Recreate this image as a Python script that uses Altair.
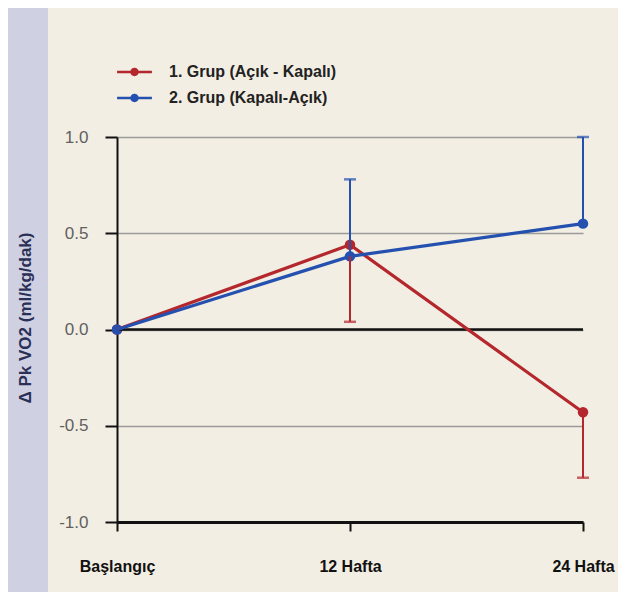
import altair as alt
import pandas as pd

categories = ["Başlangıç", "12 Hafta", "24 Hafta"]
series_names = ["1. Grup (Açık - Kapalı)", "2. Grup (Kapalı-Açık)"]
series_colors = ["#b3272d", "#2450b0"]
group1 = [0.0, 0.44, -0.43]
group2 = [0.0, 0.38, 0.55]
group1_err_end = [None, 0.04, -0.77]
group2_err_end = [None, 0.78, 1.0]
y_ticks = [-1.0, -0.5, 0.0, 0.5, 1.0]
y_title = "Δ Pk VO2 (ml/kg/dak)"

rows = []
for name, vals, errs in [(series_names[0], group1, group1_err_end), (series_names[1], group2, group2_err_end)]:
    for c, v, e in zip(categories, vals, errs):
        rows.append({"cat": c, "grp": name, "val": v, "err": e})
df = pd.DataFrame(rows)
err_df = df.dropna(subset=["err"])
zero_df = pd.DataFrame({"v": [0.0]})

x_enc = alt.X("cat:N", sort=categories, scale=alt.Scale(type="point", padding=0), title=None,
              axis=alt.Axis(labelAngle=0))
y_scale = alt.Scale(domain=[-1, 1], nice=False)
y_axis = alt.Axis(values=y_ticks, title=None,
                  labelExpr="datum.value < 0 ? '-' + format(-datum.value, '.1f') : format(datum.value, '.1f')")
color_enc = alt.Color("grp:N", scale=alt.Scale(domain=series_names, range=series_colors),
                      legend=alt.Legend(title=None))

base = alt.Chart(df)

band = alt.Chart(alt.Data(values=[{"a": 1}])).mark_rect(color="#cfd0e2").encode(
    x=alt.value(-109), x2=alt.value(-69), y=alt.value(-129), y2=alt.value(460))

title_txt = alt.Chart(alt.Data(values=[{"a": 1}])).mark_text(
    angle=270, font="Liberation Sans", fontSize=17, fontWeight="bold", color="#2a2f55",
    align="center", baseline="middle").encode(
    x=alt.value(-91), y=alt.value(181), text=alt.value(y_title))

zero = alt.Chart(zero_df).mark_rule(color="#111111", strokeWidth=2.5).encode(
    y=alt.Y("v:Q", scale=y_scale, axis=y_axis))

lines = base.mark_line(strokeWidth=3.2).encode(
    x=x_enc, y=alt.Y("val:Q", scale=y_scale, axis=y_axis), color=color_enc, order=alt.Order("grp:N"))

err_rules = alt.Chart(err_df).mark_rule(strokeWidth=2).encode(
    x=x_enc, y=alt.Y("val:Q", scale=y_scale, axis=y_axis), y2="err:Q", color=color_enc)

caps = alt.Chart(err_df).mark_tick(orient="horizontal", size=12, thickness=2.5).encode(
    x=x_enc, y=alt.Y("err:Q", scale=y_scale, axis=y_axis), color=color_enc)

points = base.mark_point(filled=True, size=110, opacity=1).encode(
    x=x_enc, y=alt.Y("val:Q", scale=y_scale, axis=y_axis), color=color_enc)

chart = alt.layer(points, band, title_txt, zero, lines, err_rules, caps).properties(
    width=466, height=385,
    autosize=alt.AutoSizeParams(type="none"),
    padding={"left": 109, "top": 129, "right": 35, "bottom": 70},
    background="#f3eee3",
).configure_view(stroke=None).configure_axisX(
    grid=False, domainColor="#111111", domainWidth=3, tickColor="#111111", tickWidth=2, tickSize=9,
    labelFont="Liberation Sans", labelFontSize=16, labelFontWeight="bold", labelColor="#111111",
    labelPadding=27,
).configure_axisY(
    grid=True, gridColor="#9a9a9a", gridWidth=1.5, domainColor="#111111", domainWidth=2,
    tickColor="#111111", tickWidth=2, tickSize=12,
    labelFont="Liberation Sans", labelFontSize=17, labelColor="#606060", labelPadding=17,
).configure_legend(
    orient="none", legendX=9.5, legendY=-73, padding=0,
    symbolType="M-2.9,-0.2H2.9V0.2H-2.9Z M-0.7,0A0.7,0.7 0 1,1 0.7,0A0.7,0.7 0 1,1 -0.7,0Z",
    symbolSize=144, symbolStrokeWidth=0, labelOffset=26.5, rowPadding=10, labelLimit=400,
    labelFont="Liberation Sans", labelFontSize=16, labelFontWeight="bold", labelColor="#222222",
)

chart.save("out.html", embed_options={"renderer": "svg", "actions": False})
